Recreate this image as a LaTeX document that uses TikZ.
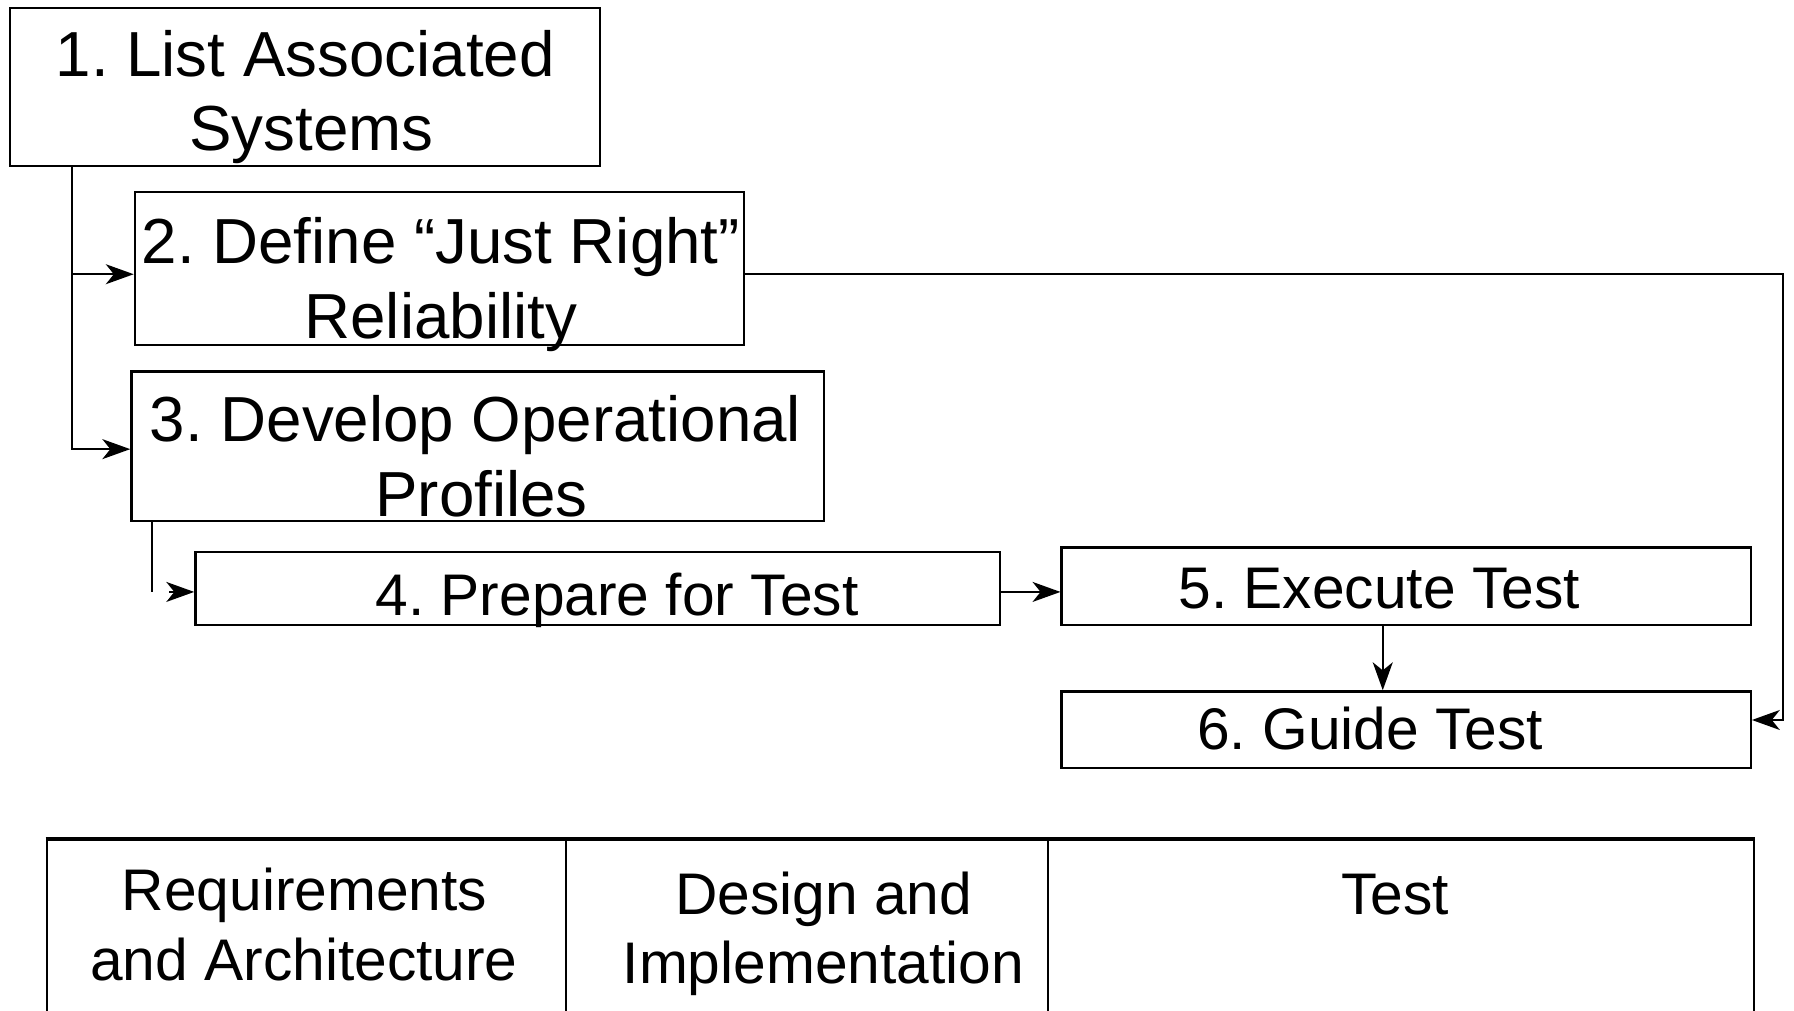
\documentclass[tikz,border=0pt]{standalone}
\usepackage{fontspec}
\setmainfont{Liberation Sans}
\usetikzlibrary{arrows.meta}
\frenchspacing
\begin{document}
\begin{tikzpicture}[x=1pt,y=-1pt,
  box/.style={draw, line width=2.3pt, inner sep=0pt, anchor=north west},
  conn/.style={line width=2.5pt, line join=miter},
  arr/.style={conn, -{Stealth[length=28pt,width=20pt,inset=8pt]}},
  bigtxt/.style={font=\fontsize{64}{70}\selectfont, anchor=base, inner sep=0pt},
  midtxt/.style={font=\fontsize{59}{66}\selectfont, anchor=base, inner sep=0pt},
  tabtxt/.style={font=\fontsize{59}{68}\selectfont, anchor=base, inner sep=0pt}]
\useasboundingbox (0,0) rectangle (1794,1010);
\clip (0,0) rectangle (1794,1010);
\begin{scope}[transform canvas={scale=0.995}]
% process boxes
\node[box, minimum width=592.6pt, minimum height=158.5pt] (b1) at (9.2,6.9) {};
\node[box, minimum width=612.1pt, minimum height=153.9pt] (b2) at (134.4,191.8) {};
\node[box, minimum width=696pt, minimum height=150.5pt] (b3) at (130.9,372.1) {};
\node[box, minimum width=808.6pt, minimum height=73.5pt] (b4) at (195.2,553.6) {};
\node[box, minimum width=692.6pt, minimum height=78.1pt] (b5) at (1065.8,549) {};
\node[box, minimum width=692.6pt, minimum height=76.9pt] (b6) at (1065.8,693.7) {};

% texts
\node[bigtxt] (t1a) at (306.7,77) {1. List Associated};
\node[bigtxt] (t1b) at (313,151.6) {Systems};
\node[bigtxt] (t2a) at (443,265.3) {2. Define “Just Right”};
\node[bigtxt] (t2b) at (443,340) {Reliability};
\node[bigtxt] (t3a) at (478,443.3) {3. Develop Operational};
\node[bigtxt] (t3b) at (484,519) {Profiles};
\node[midtxt] (t4) at (620,619) {4. Prepare for Test};
\node[midtxt] (t5) at (1386,612) {5. Execute Test};
\node[midtxt] (t6) at (1377,753.4) {6. Guide Test};

% connectors
\coordinate (j2) at (72.4,275.6);
\coordinate (j1) at (72.4,451.4);
\draw[conn] (b1.south -| j1) -- (j2);
\draw[arr] (j2) -- (j1) -- (j1 -| b3.west);
\draw[arr] (j2) -- (j2 -| b2.west);

\coordinate (j3) at (152.7,594.9);
\coordinate (a4) at (170,594.9);
\draw[conn] (b3.south -| j3) -- (j3);
\draw[arr] (a4) -- (a4 -| b4.west);

\draw[arr] (b4.east |- a4) -- (b5.west |- a4);

\coordinate (a5) at (1389.7,0);
\draw[arr] (b5.south -| a5) -- (b6.north -| a5);

\coordinate (r1) at (1791.7,275.6);
\coordinate (r2) at (1791.7,723.6);
\draw[arr] (b2.east |- r1) -- (r1) -- (r2) -- (r2 -| b6.east);

% phase table
\node[box, minimum width=521.5pt, minimum height=220pt] (c1) at (45.9,843) {};
\node[box, minimum width=484.6pt, minimum height=220pt] (c2) at (567.4,843) {};
\node[box, minimum width=709.8pt, minimum height=220pt] (c3) at (1052,843) {};
\draw[line width=3pt] (c1.north west) -- (c3.north east);

\node[tabtxt] (p1a) at (306,915.4) {Requirements};
\node[tabtxt] (p1b) at (305.5,985.4) {and Architecture};
\node[tabtxt] (p2a) at (828,918.8) {Design and};
\node[tabtxt] (p2b) at (827.5,988.9) {Implementation};
\node[tabtxt] (p3) at (1402,918.8) {Test};
\end{scope}
\end{tikzpicture}
\end{document}
